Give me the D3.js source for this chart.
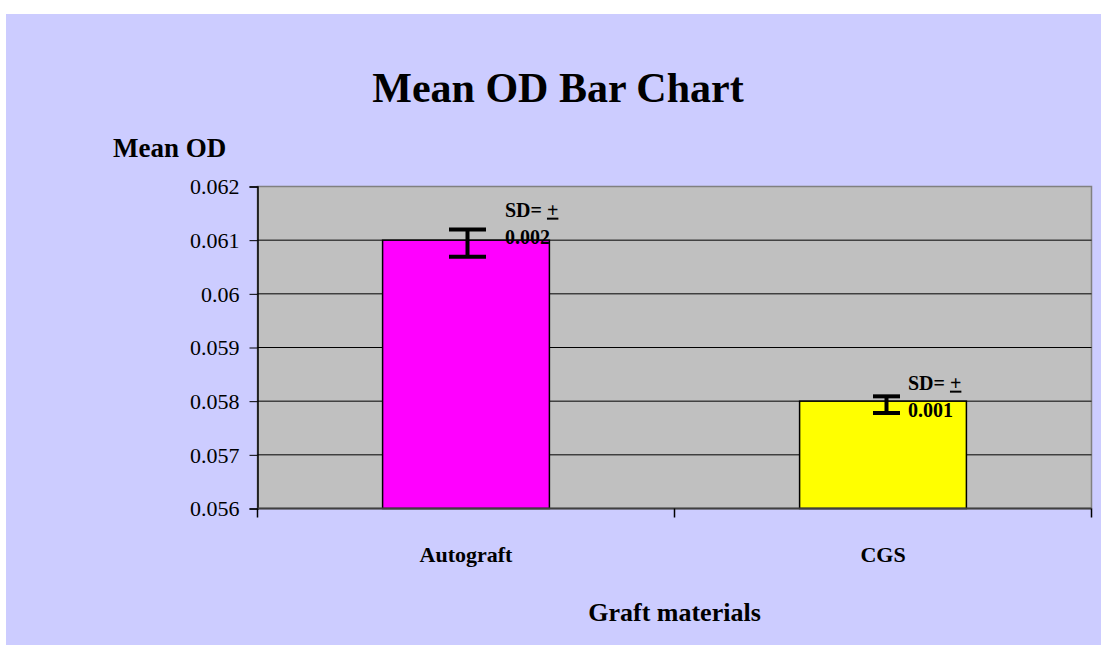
<!DOCTYPE html>
<html>
<head>
<meta charset="utf-8">
<script src="https://d3js.org/d3.v7.min.js"></script>
<style>
  body { margin: 0; background: #fff; }
  svg text { font-family: "Liberation Serif", "Times New Roman", serif !important; fill: #000; }
</style>
</head>
<body>
<svg class="chart" width="1101" height="645"></svg>
<script>
var width = 1101;
var height = 645;

// data
var categories = ["Autograft", "CGS"];
var meanOD = [0.061, 0.058];
var errLow = [0.06069, 0.05778];
var errHigh = [0.06120, 0.05809];
var sdText = ["0.002", "0.001"];
var yTicks = [0.056, 0.057, 0.058, 0.059, 0.06, 0.061, 0.062];
var barColors = ["#ff00ff", "#ffff00"];

// styling only
var capWidth = [37, 27];
var errShift = [1.5, 3.5];
var sdDx = [39, 25];
var sdDy = [-23.5, -11.5];

var plot = {left: 257.5, right: 1091.5, top: 186.5, bottom: 508.5};

var svg = d3.select(".chart");

svg.append("rect")
    .attr("x", 6).attr("y", 14)
    .attr("width", width - 6).attr("height", height - 14)
    .attr("fill", "#ccccff");

var x = d3.scaleBand()
    .domain(categories)
    .range([plot.left, plot.right])
    .paddingInner(0.6)
    .paddingOuter(0.3);

var y = d3.scaleLinear()
    .domain([0.056, 0.062])
    .range([plot.bottom, plot.top]);

// plot area
svg.append("rect")
    .attr("x", plot.left).attr("y", plot.top)
    .attr("width", plot.right - plot.left)
    .attr("height", plot.bottom - plot.top)
    .attr("fill", "#c0c0c0")
    .attr("stroke", "#808080")
    .attr("stroke-width", 1.5);

// gridlines
svg.append("g")
    .selectAll("line")
    .data(yTicks.slice(1, -1))
    .enter().append("line")
    .attr("x1", plot.left).attr("x2", plot.right)
    .attr("y1", function(d) { return y(d); })
    .attr("y2", function(d) { return y(d); })
    .attr("stroke", "#000")
    .attr("stroke-width", 1);

// bars
svg.append("g")
    .selectAll("rect")
    .data(categories)
    .enter().append("rect")
    .attr("x", function(d) { return x(d); })
    .attr("y", function(d, i) { return y(meanOD[i]); })
    .attr("width", x.bandwidth())
    .attr("height", function(d, i) { return y(0.056) - y(meanOD[i]); })
    .attr("fill", function(d, i) { return barColors[i]; })
    .attr("stroke", "#000")
    .attr("stroke-width", 1.5);

// y axis
var yAxis = svg.append("g")
    .attr("transform", "translate(" + plot.left + ",0)")
    .call(d3.axisLeft(y)
        .tickValues(yTicks)
        .tickSize(8)
        .tickPadding(10)
        .tickFormat(function(d) { return d3.format("")(+d.toFixed(3)); }));
yAxis.attr("font-family", "Liberation Serif").attr("font-size", 22);
yAxis.select(".domain").attr("stroke", "#000").attr("stroke-width", 1.5);
yAxis.selectAll(".tick line").attr("stroke", "#000");
yAxis.selectAll(".tick text")
    .attr("fill", "#000")
    .attr("dy", "0.34em");

// x axis
svg.append("line")
    .attr("x1", plot.left).attr("x2", plot.right)
    .attr("y1", plot.bottom).attr("y2", plot.bottom)
    .attr("stroke", "#404040")
    .attr("stroke-width", 2);

var xTickPos = [plot.left, (plot.left + plot.right) / 2, plot.right];
svg.append("g")
    .selectAll("line")
    .data(xTickPos)
    .enter().append("line")
    .attr("x1", function(d) { return d; })
    .attr("x2", function(d) { return d; })
    .attr("y1", plot.bottom)
    .attr("y2", plot.bottom + 9)
    .attr("stroke", "#000")
    .attr("stroke-width", 1.5);

svg.append("g")
    .selectAll("text")
    .data(categories)
    .enter().append("text")
    .attr("x", function(d) { return x(d) + x.bandwidth() / 2; })
    .attr("y", 562)
    .attr("text-anchor", "middle")
    .attr("font-weight", "bold")
    .style("font-size", "22px")
    .text(function(d) { return d; });

// error bars
var err = svg.append("g")
    .selectAll("g")
    .data(categories)
    .enter().append("g")
    .attr("stroke", "#000")
    .attr("stroke-width", 4);

err.append("line")
    .attr("x1", function(d, i) { return x(d) + x.bandwidth() / 2 + errShift[i]; })
    .attr("x2", function(d, i) { return x(d) + x.bandwidth() / 2 + errShift[i]; })
    .attr("y1", function(d, i) { return y(errHigh[i]); })
    .attr("y2", function(d, i) { return y(errLow[i]); });

[errHigh, errLow].forEach(function(arr) {
    err.append("line")
        .attr("x1", function(d, i) { return x(d) + x.bandwidth() / 2 + errShift[i] - capWidth[i] / 2; })
        .attr("x2", function(d, i) { return x(d) + x.bandwidth() / 2 + errShift[i] + capWidth[i] / 2; })
        .attr("y1", function(d, i) { return y(arr[i]); })
        .attr("y2", function(d, i) { return y(arr[i]); });
});

// SD labels
var sd = svg.append("g")
    .selectAll("text")
    .data(categories)
    .enter().append("text")
    .attr("font-weight", "bold")
    .style("font-size", "20px")
    .attr("x", function(d, i) { return x(d) + x.bandwidth() / 2 + sdDx[i]; })
    .attr("y", function(d, i) { return y(meanOD[i]) + sdDy[i]; });

sd.append("tspan").text("SD= ");
sd.append("tspan").style("text-decoration", "underline").text("+");
sd.append("tspan")
    .attr("x", function(d, i) { return x(d) + x.bandwidth() / 2 + sdDx[i]; })
    .attr("dy", 27)
    .text(function(d, i) { return sdText[i]; });

// titles
svg.append("text")
    .attr("x", 558).attr("y", 102)
    .attr("text-anchor", "middle")
    .attr("font-weight", "bold")
    .style("font-size", "42px")
    .text("Mean OD Bar Chart");

svg.append("text")
    .attr("x", 113).attr("y", 157)
    .attr("font-weight", "bold")
    .style("font-size", "27px")
    .text("Mean OD");

svg.append("text")
    .attr("x", (plot.left + plot.right) / 2).attr("y", 621)
    .attr("text-anchor", "middle")
    .attr("font-weight", "bold")
    .style("font-size", "26px")
    .text("Graft materials");
</script>
</body>
</html>
